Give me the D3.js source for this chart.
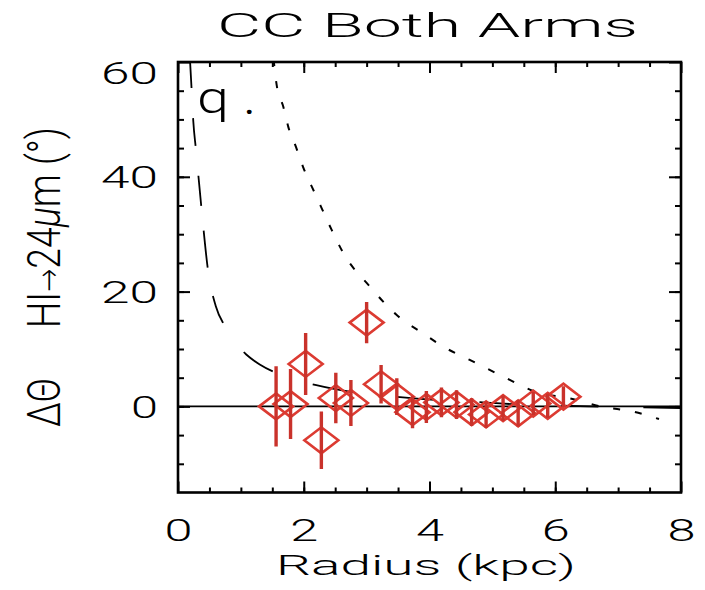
<!DOCTYPE html>
<html>
<head>
<meta charset="utf-8">
<script src="https://cdn.jsdelivr.net/npm/d3@7"></script>
<style>
  body { margin: 0; background: #fff; }
  svg { display: block; }
  text { font-family: Roboto, "DejaVu Sans", sans-serif; font-weight: 300; fill: #000; }
</style>
</head>
<body>
<svg id="chart" width="705" height="590"></svg>
<script>
// Pitch-angle offset between HI and 24um arms versus galactocentric radius
const radius     = [1.56, 1.79, 2.03, 2.28, 2.51, 2.75, 3.00, 3.23, 3.48, 3.73, 3.95, 4.19, 4.43, 4.67, 4.90, 5.17, 5.41, 5.65, 5.88, 6.13];
const deltaTheta = [0.0, 0.4, 7.4, -5.9, 1.45, 0.6, 14.6, 3.85, 1.7, -1.0, -0.1, 0.7, 0.3, -1.0, -1.4, -0.3, -1.2, 0.5, 0.1, 1.7];
const deltaErr   = [7.0, 6.1, 5.4, 5.0, 4.4, 4.0, 3.6, 3.35, 3.2, 2.8, 2.8, 2.6, 2.5, 2.4, 2.3, 2.2, 2.3, 2.0, 2.1, 1.8];

// Model offset curves (long dashes and short dashes)
const modelLongR  = [0.19, 0.218, 0.243, 0.286, 0.376, 0.48, 0.60, 0.75, 0.90, 1.09, 1.30, 1.57, 1.90, 2.20, 2.50, 2.84, 3.20, 3.53, 4.13, 4.80, 5.40, 6.00, 7.00, 8.00];
const modelLongY  = [60.5, 54.9, 49.7, 44.7, 34.2, 23.5, 17.5, 13.9, 11.2, 9.0, 7.3, 5.8, 4.6, 3.7, 3.0, 2.4, 1.95, 1.6, 1.1, 0.75, 0.35, 0.15, -0.1, -0.3];
const modelShortR = [1.52, 1.569, 1.675, 1.754, 1.876, 1.99, 2.20, 2.42, 2.63, 3.05, 3.47, 3.90, 4.22, 4.64, 5.17, 5.70, 6.23, 6.76, 7.24, 7.65];
const modelShortY = [60.5, 56.0, 52.2, 48.7, 45.2, 41.7, 36.6, 31.3, 26.7, 20.9, 16.0, 12.7, 10.4, 8.1, 5.2, 2.5, 1.4, -0.1, -0.9, -2.2];

const referenceLevel = [0];

const xTicks = [0, 2, 4, 6, 8];
const yTicks = [0, 20, 40, 60];
const xDomain = [0, 8];
const yDomain = [-15, 60];

const titleText = "CC Both Arms";
const xTitle = "Radius (kpc)";
const yTitleSymbol = "ΔΘ";
const panelTag = "q";

const svg = d3.select("#chart");
const plotLeft = 178, plotRight = 681, plotTop = 62, plotBottom = 492.5;

const x = d3.scaleLinear().domain(xDomain).range([plotLeft, plotRight]);
const y = d3.scaleLinear().domain(yDomain).range([plotBottom, plotTop]);

svg.append("defs").append("clipPath").attr("id", "plotClip")
  .append("rect").attr("x", plotLeft).attr("y", plotTop)
  .attr("width", plotRight - plotLeft).attr("height", plotBottom - plotTop);

const plot = svg.append("g").attr("clip-path", "url(#plotClip)");

// zero reference line
plot.selectAll("line.ref").data(referenceLevel).join("line")
  .attr("class", "ref")
  .attr("x1", x(xDomain[0])).attr("x2", x(xDomain[1]))
  .attr("y1", d => y(d)).attr("y2", d => y(d))
  .attr("stroke", "#000").attr("stroke-width", 1.6);

const line = d3.line().x(d => x(d[0])).y(d => y(d[1])).curve(d3.curveMonotoneX);

plot.append("path")
  .datum(modelLongR.map((r, i) => [r, modelLongY[i]]))
  .attr("d", line)
  .attr("fill", "none").attr("stroke", "#000").attr("stroke-width", 1.8)
  .attr("stroke-dasharray", "29,30,28,30,30,25,37,29,29,36,35,42,41,44,38,45,37,45,37,45,37,45,37,45,37,45,37,45,37,45");

plot.append("path")
  .datum(modelShortR.map((r, i) => [r, modelShortY[i]]))
  .attr("d", line)
  .attr("fill", "none").attr("stroke", "#000").attr("stroke-width", 2)
  .attr("stroke-dasharray", "7,15");

// data points: diamonds with vertical error bars
const pts = radius.map((r, i) => ({ r, v: deltaTheta[i], e: deltaErr[i] }));
const hw = 17, hh = 13;
plot.selectAll("path.pt").data(pts).join("path")
  .attr("class", "pt")
  .attr("transform", d => `translate(${x(d.r)},${y(d.v)})`)
  .attr("d", `M${-hw},0L0,${-hh}L${hw},0L0,${hh}Z`)
  .attr("fill", "none").attr("stroke", "#dc3b32").attr("stroke-width", 2.6);

plot.selectAll("line.err").data(pts).join("line")
  .attr("class", "err")
  .attr("x1", d => x(d.r)).attr("x2", d => x(d.r))
  .attr("y1", d => y(d.v - d.e)).attr("y2", d => y(d.v + d.e))
  .attr("stroke", "#c9322b").attr("stroke-width", 3.4);

// frame
svg.append("rect").attr("x", plotLeft).attr("y", plotTop)
  .attr("width", plotRight - plotLeft).attr("height", plotBottom - plotTop)
  .attr("fill", "none").attr("stroke", "#000").attr("stroke-width", 2.6);

const xMinor = d3.range(0.5, 8, 0.5);
const yMinor = d3.range(-10, 60, 5);

function styleTicks(g) {
  g.select(".domain").remove();
  g.selectAll(".tick line").attr("stroke", "#000").attr("stroke-width", 2);
}

// minor ticks, all four sides
svg.append("g").attr("transform", `translate(0,${plotBottom})`)
  .call(d3.axisBottom(x).tickValues(xMinor).tickSize(-5).tickFormat("")).call(styleTicks);
svg.append("g").attr("transform", `translate(0,${plotTop})`)
  .call(d3.axisTop(x).tickValues(xMinor).tickSize(-5).tickFormat("")).call(styleTicks);
svg.append("g").attr("transform", `translate(${plotLeft},0)`)
  .call(d3.axisLeft(y).tickValues(yMinor).tickSize(-6).tickFormat("")).call(styleTicks);
svg.append("g").attr("transform", `translate(${plotRight},0)`)
  .call(d3.axisRight(y).tickValues(yMinor).tickSize(-6).tickFormat("")).call(styleTicks);

// major ticks
const xAxis = svg.append("g").attr("transform", `translate(0,${plotBottom})`)
  .call(d3.axisBottom(x).tickValues(xTicks).tickSize(-11).tickFormat(d3.format("d"))).call(styleTicks);
xAxis.selectAll(".tick text")
  .attr("y", 48).attr("dy", null)
  .attr("font-size", 32).attr("textLength", 28).attr("lengthAdjust", "spacingAndGlyphs")
  .style("font-family", "Roboto, sans-serif").style("font-weight", 300).attr("fill", "#000");

svg.append("g").attr("transform", `translate(0,${plotTop})`)
  .call(d3.axisTop(x).tickValues(xTicks).tickSize(-11).tickFormat("")).call(styleTicks);

const yAxis = svg.append("g").attr("transform", `translate(${plotLeft},0)`)
  .call(d3.axisLeft(y).tickValues(yTicks).tickSize(-12).tickFormat(d3.format("d"))).call(styleTicks);
yAxis.selectAll(".tick text")
  .attr("x", -20)
  .attr("dy", d => d === 60 ? "0.68em" : "0.36em")
  .attr("font-size", 31)
  .attr("textLength", d => String(d).length === 1 ? 27 : 57)
  .attr("lengthAdjust", "spacingAndGlyphs")
  .style("font-family", "Roboto, sans-serif").style("font-weight", 300).attr("fill", "#000");

svg.append("g").attr("transform", `translate(${plotRight},0)`)
  .call(d3.axisRight(y).tickValues(yTicks).tickSize(-12).tickFormat("")).call(styleTicks);

// titles
svg.append("text").attr("x", 427.5).attr("y", 37)
  .attr("text-anchor", "middle").attr("font-size", 34)
  .attr("textLength", 421).attr("lengthAdjust", "spacingAndGlyphs")
  .text(titleText);

svg.append("text").attr("x", 426).attr("y", 575)
  .attr("text-anchor", "middle").attr("font-size", 28)
  .attr("textLength", 300).attr("lengthAdjust", "spacingAndGlyphs")
  .text(xTitle);

svg.append("text").attr("transform", "translate(60,402.5) rotate(-90)")
  .attr("text-anchor", "middle").attr("font-size", 46)
  .attr("textLength", 49).attr("lengthAdjust", "spacingAndGlyphs")
  .text(yTitleSymbol);

const yt = svg.append("text").attr("transform", "translate(60,227.5) rotate(-90)")
  .attr("text-anchor", "middle").attr("font-size", 46)
  .attr("textLength", 201).attr("lengthAdjust", "spacingAndGlyphs");
yt.append("tspan").text("HI");
yt.append("tspan").attr("font-size", 34).attr("font-family", "DejaVu Sans").text("→");
yt.append("tspan").text("24");
yt.append("tspan").attr("font-style", "italic").text("μ");
yt.append("tspan").text("m (°)");

// panel tag
svg.append("text").attr("x", 197).attr("y", 113)
  .attr("font-size", 45).attr("textLength", 32).attr("lengthAdjust", "spacingAndGlyphs")
  .text(panelTag);
svg.append("text").attr("x", 245).attr("y", 114)
  .attr("font-size", 30).style("font-weight", 700)
  .text(".");
</script>
</body>
</html>
